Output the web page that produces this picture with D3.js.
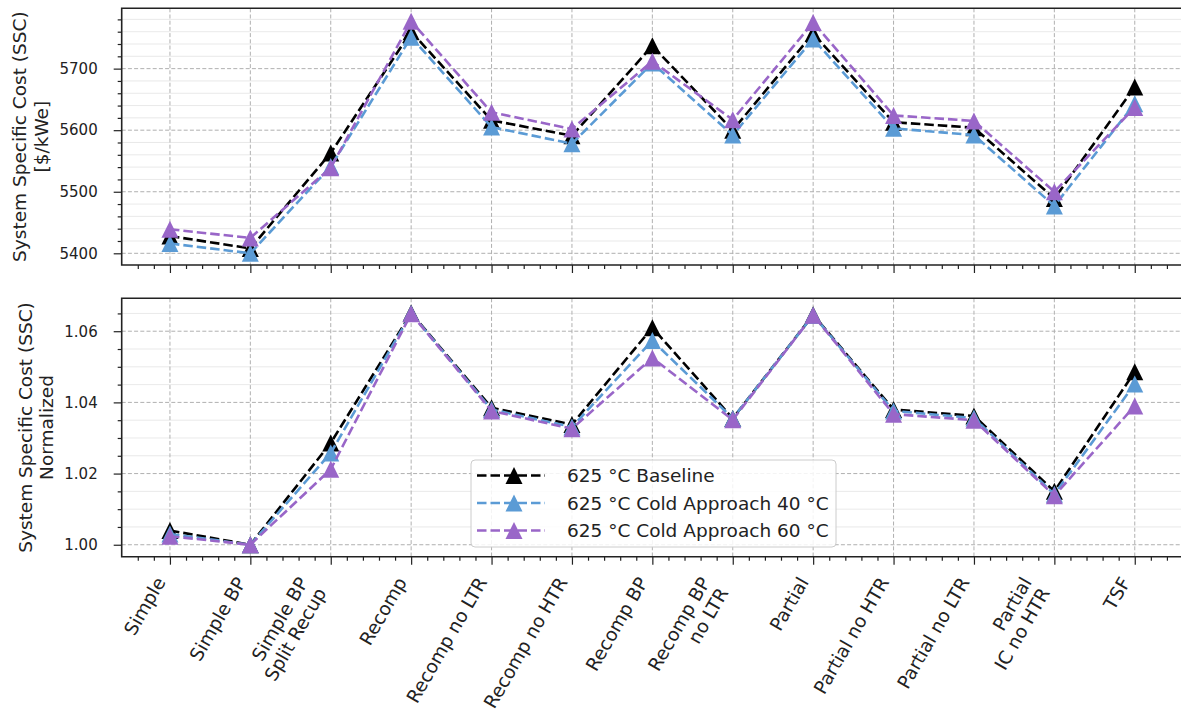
<!DOCTYPE html>
<html>
<head>
<meta charset="utf-8">
<script src="https://cdn.jsdelivr.net/npm/d3@7"></script>
<style>
  body { margin: 0; background: #fff; }
  svg { font-family: "DejaVu Sans", sans-serif; }
</style>
</head>
<body>
<svg id="chart" width="1181" height="711"></svg>
<script>
// Cycle configurations (x axis)
const categories = ["Simple", "Simple BP", "Simple BP\nSplit Recup", "Recomp", "Recomp no LTR",
  "Recomp no HTR", "Recomp BP", "Recomp BP\nno LTR", "Partial", "Partial no HTR",
  "Partial no LTR", "Partial\nIC no HTR", "TSF"];

const seriesNames = ["625 °C Baseline", "625 °C Cold Approach 40 °C", "625 °C Cold Approach 60 °C"];
const seriesColors = ["#000000", "#5b9bd5", "#9966c8"];

// SSC in $/kWe
const sscBaseline = [5428, 5408, 5563, 5760, 5616, 5591, 5737, 5600, 5757, 5613, 5604, 5489, 5670];
const sscCold40   = [5416, 5400, 5541, 5751, 5605, 5578, 5709, 5592, 5748, 5603, 5592, 5477, 5643];
const sscCold60   = [5439, 5425, 5539, 5777, 5629, 5602, 5712, 5617, 5775, 5624, 5615, 5500, 5637];

// SSC normalized
const normBaseline = [1.0040, 1.0000, 1.0286, 1.0651, 1.0385, 1.0338, 1.0610, 1.0355, 1.0646, 1.0380, 1.0362, 1.0150, 1.0486];
const normCold40   = [1.0030, 1.0000, 1.0258, 1.0650, 1.0380, 1.0331, 1.0574, 1.0355, 1.0645, 1.0376, 1.0356, 1.0142, 1.0452];
const normCold60   = [1.0024, 1.0000, 1.0212, 1.0649, 1.0376, 1.0326, 1.0525, 1.0351, 1.0645, 1.0367, 1.0350, 1.0138, 1.0390];

const topTicks = [5400, 5500, 5600, 5700];
const bottomTicks = [1.00, 1.02, 1.04, 1.06];

const svg = d3.select("#chart");
const tickFont = 15;
const labelFont = 18.5;

const x = d3.scaleLinear().domain([-0.6, 12.6]).range([121.7, 1183]);
const xMajor = d3.range(categories.length);
const xMinor = d3.range(-0.4, 12.6, 0.2).filter(v => Math.abs(v - Math.round(v)) > 0.01);

// matplotlib style "^" marker, centred on its box
function triangle(w) {
    const h = w / 2;
    return `M0,${-h}L${h},${h}L${-h},${h}Z`;
}

// Draw one panel
function drawPanel(top, bottom, domain, majorTicks, minorStep, fmt, seriesData, label) {
    const y = d3.scaleLinear().domain(domain).range([bottom, top]);
    const g = svg.append("g");
    const left = x.range()[0], right = x.range()[1];

    const minorTicks = d3.range(majorTicks[0], domain[1], minorStep)
        .filter(v => v >= domain[0] && !majorTicks.some(m => Math.abs(m - v) < minorStep / 10));

    // minor horizontal grid
    g.append("g").selectAll("line").data(minorTicks).join("line")
        .attr("x1", left).attr("x2", right)
        .attr("y1", d => y(d)).attr("y2", d => y(d))
        .attr("stroke", "#e3e3e3").attr("stroke-width", 0.8);

    // major grid
    g.append("g").selectAll("line").data(majorTicks).join("line")
        .attr("x1", left).attr("x2", right)
        .attr("y1", d => y(d)).attr("y2", d => y(d))
        .attr("stroke", "#b0b0b0").attr("stroke-width", 1)
        .attr("stroke-dasharray", "4,2.2");
    g.append("g").selectAll("line").data(xMajor).join("line")
        .attr("x1", d => x(d)).attr("x2", d => x(d))
        .attr("y1", top).attr("y2", bottom)
        .attr("stroke", "#b0b0b0").attr("stroke-width", 1)
        .attr("stroke-dasharray", "4,2.2");

    // series
    const line = d3.line().x((d, i) => x(i)).y(d => y(d));
    seriesData.forEach((vals, s) => {
        g.append("path").datum(vals)
            .attr("d", line)
            .attr("fill", "none")
            .attr("stroke", seriesColors[s])
            .attr("stroke-width", 2.6)
            .attr("stroke-dasharray", "9.5,4");
        g.append("g").selectAll("path").data(vals).join("path")
            .attr("d", triangle(17))
            .attr("transform", (d, i) => `translate(${x(i)},${y(d)})`)
            .attr("fill", seriesColors[s]);
    });

    // axes
    const yAxis = g.append("g").attr("transform", `translate(${left},0)`)
        .call(d3.axisLeft(y).tickValues(majorTicks).tickSize(8).tickSizeOuter(0)
            .tickPadding(16).tickFormat(fmt));
    g.append("g").attr("transform", `translate(${left},0)`)
        .call(d3.axisLeft(y).tickValues(minorTicks).tickSize(4).tickSizeOuter(0).tickFormat(""));
    g.append("g").attr("transform", `translate(0,${bottom})`)
        .call(d3.axisBottom(x).tickValues(xMajor).tickSize(8).tickSizeOuter(0).tickFormat(""));
    g.append("g").attr("transform", `translate(0,${bottom})`)
        .call(d3.axisBottom(x).tickValues(xMinor).tickSize(4).tickSizeOuter(0).tickFormat(""));
    g.selectAll(".domain").remove();
    g.selectAll(".tick line").attr("stroke", "#222").attr("stroke-width", 1.2);
    yAxis.selectAll("text").attr("font-size", tickFont).attr("fill", "#222")
        .attr("font-family", "DejaVu Sans");

    // spines
    g.append("path")
        .attr("d", `M${right},${top}H${left}V${bottom}H${right}`)
        .attr("fill", "none").attr("stroke", "#222").attr("stroke-width", 1.6);

    // y label
    const lab = g.append("text")
        .attr("transform", `translate(${label.x},${(top + bottom) / 2}) rotate(-90)`)
        .attr("text-anchor", "middle").attr("font-size", labelFont).attr("fill", "#222");
    label.lines.forEach((t, i) => {
        lab.append("tspan").attr("x", 0).attr("y", i * label.lh).text(t);
    });
    return y;
}

drawPanel(8.3, 265, [5381, 5798], topTicks, 20, d3.format("d"),
    [sscBaseline, sscCold40, sscCold60],
    {x: 26, lh: 22, lines: ["System Specific Cost (SSC)", "[$/kWe]"]});

drawPanel(298.3, 556.7, [0.99664, 1.06925], bottomTicks, 0.005, d3.format(".2f"),
    [normBaseline, normCold40, normCold60],
    {x: 31.5, lh: 21.5, lines: ["System Specific Cost (SSC)", "Normalized"]});

// rotated category labels (right aligned, 60 degrees)
const labTop = 575, lh = 21, asc = 14, desc = 4.4;
const c = Math.cos(Math.PI / 3), s = Math.sin(Math.PI / 3);
categories.forEach((cat, i) => {
    const lines = cat.split("\n");
    const n = lines.length;
    const p0x = x(i) - (n - 1) * lh * s - s * desc;
    const p0y = labTop + c * asc;
    lines.forEach((t, j) => {
        svg.append("text")
            .attr("transform", `translate(${p0x + j * lh * s},${p0y + j * lh * c}) rotate(-60)`)
            .attr("text-anchor", "end")
            .attr("font-size", labelFont)
            .attr("fill", "#222")
            .text(t);
    });
});

// legend
const legend = svg.append("g").attr("transform", "translate(471,460)");
legend.append("rect")
    .attr("width", 365).attr("height", 87).attr("rx", 4)
    .attr("fill", "rgba(255,255,255,0.85)").attr("stroke", "#cccccc").attr("stroke-width", 1);
seriesNames.forEach((name, i) => {
    const yy = 15.5 + i * 27.5;
    legend.append("line")
        .attr("x1", 6).attr("x2", 74).attr("y1", yy).attr("y2", yy)
        .attr("stroke", seriesColors[i]).attr("stroke-width", 2.6)
        .attr("stroke-dasharray", "9.5,4");
    legend.append("path")
        .attr("d", triangle(17))
        .attr("transform", `translate(43,${yy})`)
        .attr("fill", seriesColors[i]);
    legend.append("text")
        .attr("x", 96).attr("y", yy).attr("dy", "0.36em")
        .attr("font-size", labelFont).attr("fill", "#222")
        .text(name);
});
</script>
</body>
</html>
